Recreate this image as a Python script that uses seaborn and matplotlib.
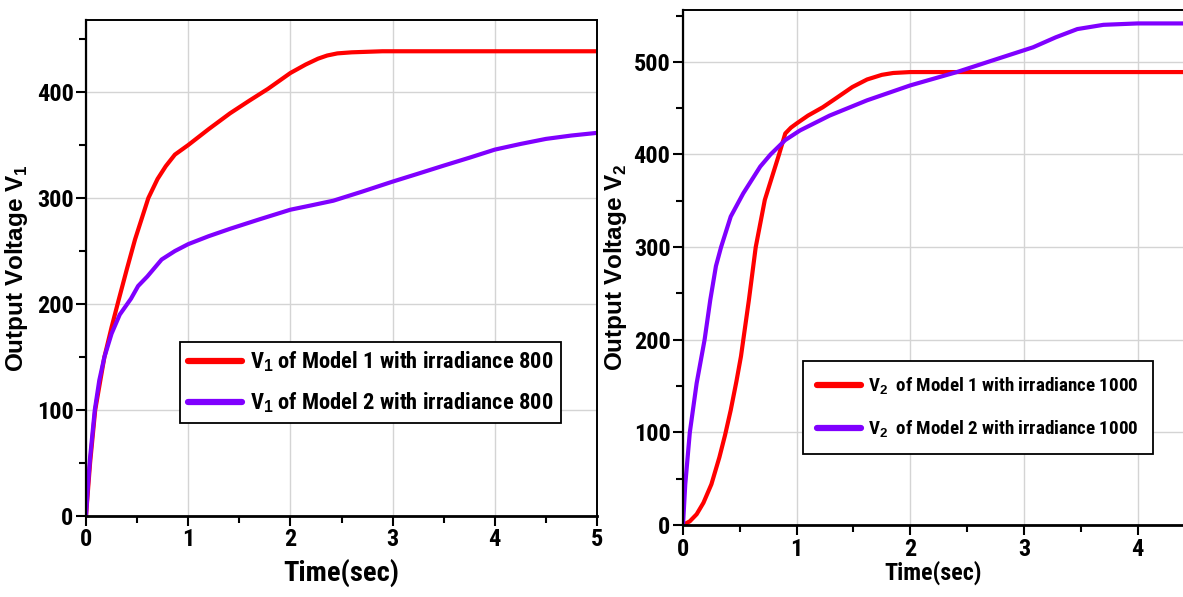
import numpy as np
import pandas as pd
import matplotlib
matplotlib.use("Agg")
import matplotlib.pyplot as plt
from matplotlib import font_manager as fm
from matplotlib.font_manager import FontProperties
from matplotlib.ticker import MultipleLocator
import seaborn as sns

# ---------------- data ----------------
t_l_m1 = [0, 0.04, 0.09, 0.18, 0.25, 0.32, 0.40, 0.48, 0.55, 0.61, 0.70, 0.78, 0.87, 1.00,
          1.20, 1.41, 1.60, 1.78, 2.00, 2.15, 2.27, 2.36, 2.46, 2.60, 2.90, 3.50, 4.00, 4.50, 5.00]
v_l_m1 = [0, 50, 100, 150, 178, 204, 233, 261, 282, 300, 318, 330, 341, 350,
          365, 380, 392, 403, 418, 426, 431.5, 434.5, 436.5, 437.5, 438.5, 438.5, 438.5, 438.5, 438.5]

t_l_m2 = [0, 0.02, 0.04, 0.086, 0.13, 0.18, 0.25, 0.33, 0.44, 0.51, 0.60, 0.74, 0.87, 1.00,
          1.20, 1.41, 1.70, 2.00, 2.20, 2.42, 2.70, 3.00, 3.25, 3.50, 3.75, 4.00, 4.25, 4.50, 4.75, 5.00]
v_l_m2 = [0, 30, 55, 100, 128, 150, 172, 190, 205, 217, 226, 242, 250, 256.5,
          264, 271, 280, 289, 293, 297.5, 306, 315.5, 323, 330.6, 338, 345.7, 351, 355.8, 359, 361.5]

t_r_m1 = [0, 0.06, 0.12, 0.18, 0.25, 0.32, 0.37, 0.42, 0.47, 0.51, 0.58, 0.64, 0.72, 0.845,
          0.90, 0.95, 1.00, 1.10, 1.23, 1.35, 1.49, 1.62, 1.75, 1.85, 2.00, 2.50, 3.00, 3.50, 4.40]
v_r_m1 = [0, 4, 11.6, 24, 44, 73, 97, 124, 155, 182, 243, 300, 351, 400,
          422.7, 429, 433.5, 442, 451, 461, 472.8, 481, 486, 488, 489, 489, 489, 489, 489]

t_r_m2 = [0, 0.02, 0.06, 0.12, 0.19, 0.24, 0.29, 0.335, 0.42, 0.53, 0.68, 0.77, 0.90, 1.03,
          1.29, 1.62, 2.00, 2.41, 2.72, 3.08, 3.28, 3.47, 3.70, 4.00, 4.40]
v_r_m2 = [0, 44, 100, 153, 200, 243, 279.6, 300, 333, 358, 387, 400, 415.6, 426,
          442, 458.5, 474.6, 489, 501.4, 515.7, 526.5, 535.4, 540, 541.5, 541.5]

labels_left = [r"V$_\mathbf{1}$ of Model 1 with irradiance 800",
               r"V$_\mathbf{1}$ of Model 2 with irradiance 800"]
labels_right = [r"V$_\mathbf{2}$  of Model 1 with irradiance 1000",
                r"V$_\mathbf{2}$  of Model 2 with irradiance 1000"]

RED = "#ff0000"
PURPLE = "#8000ff"

# ---------------- style ----------------
sns.set_style("whitegrid")

# look for an installed condensed / narrow bold face
narrow = None
pref = ["Liberation Sans Narrow", "Roboto Condensed", "DejaVu Sans Condensed",
        "Open Sans Condensed", "Noto Sans Condensed", "DejaVu Sans"]
cands = []
for f in fm.fontManager.ttflist:
    is_narrow = ("Narrow" in f.name or "Condensed" in f.name or "Condensed" in f.fname
                 or f.stretch in ("condensed", "semi-condensed", "extra-condensed"))
    is_bold = (f.weight in ("bold", 700, "700")) or ("Bold" in f.fname)
    if is_narrow and is_bold and "Oblique" not in f.fname and "Italic" not in f.fname:
        cands.append(f)
cands.sort(key=lambda f: pref.index(f.name) if f.name in pref else len(pref))
if cands:
    narrow = cands[0]

if narrow is not None:
    NFP = lambda size: FontProperties(fname=narrow.fname, size=size)
    scale = 1.0
else:
    NFP = lambda size: FontProperties(family=["Liberation Sans", "DejaVu Sans"],
                                      weight="bold", size=size)
    scale = 0.86

plt.rcParams["font.family"] = ["Liberation Sans", "DejaVu Sans"]
plt.rcParams["font.weight"] = "bold"
plt.rcParams["text.color"] = "black"
plt.rcParams["axes.labelcolor"] = "black"
plt.rcParams["xtick.color"] = "black"
plt.rcParams["ytick.color"] = "black"
plt.rcParams["mathtext.fontset"] = "custom"
plt.rcParams["mathtext.rm"] = "Liberation Sans:bold"
plt.rcParams["mathtext.bf"] = "Liberation Sans:bold"

fig = plt.figure(figsize=(11.83, 5.97), dpi=100)
axL = fig.add_axes([86 / 1183, (597 - 516) / 597, 511 / 1183, 496 / 597])
axR = fig.add_axes([683 / 1183, (597 - 525) / 597, 500 / 1183, 515 / 597])


def df_of(t, v, lab):
    return pd.DataFrame({"t": t, "v": v, "series": lab})


dL = pd.concat([df_of(t_l_m1, v_l_m1, labels_left[0]), df_of(t_l_m2, v_l_m2, labels_left[1])])
dR = pd.concat([df_of(t_r_m1, v_r_m1, labels_right[0]), df_of(t_r_m2, v_r_m2, labels_right[1])])

for ax, d, labs in [(axL, dL, labels_left), (axR, dR, labels_right)]:
    sns.lineplot(data=d, x="t", y="v", hue="series", hue_order=labs,
                 palette=[RED, PURPLE], sort=False, estimator=None,
                 linewidth=3.0, ax=ax)

axL.set_xlim(0, 5)
axL.set_ylim(0, 468)
axR.set_xlim(0, 4.4)
axR.set_ylim(0, 556)

for ax in (axL, axR):
    ax.set_facecolor("white")
    ax.xaxis.set_major_locator(MultipleLocator(1))
    ax.xaxis.set_minor_locator(MultipleLocator(0.5))
    ax.yaxis.set_major_locator(MultipleLocator(100))
    ax.yaxis.set_minor_locator(MultipleLocator(50))
    ax.grid(True, which="major", color="#d4d4d4", linewidth=1.0)
    ax.grid(False, which="minor")
    ax.tick_params(axis="both", which="major", direction="out", length=7, width=1.5,
                   color="black", pad=2, bottom=True, left=True)
    ax.tick_params(axis="both", which="minor", direction="out", length=5, width=1.5,
                   color="black", bottom=True, left=True)
    for s in ax.spines.values():
        s.set_color("black")
        s.set_linewidth(1.4)
    ax.spines["bottom"].set_linewidth(2.0)
    ax.spines["left"].set_linewidth(1.6)

axR.spines["right"].set_visible(False)

axL.set_xlabel("Time(sec)", fontproperties=NFP(20.5 * scale), labelpad=5)
axR.set_xlabel("Time(sec)", fontproperties=NFP(17.3 * scale), labelpad=0)
axL.set_ylabel(r"Output Voltage V$_\mathbf{1}$", fontsize=17.5, fontweight="bold",
               labelpad=5)
axR.set_ylabel(r"Output Voltage V$_\mathbf{2}$", fontsize=17.5, fontweight="bold",
               labelpad=3)

fig.canvas.draw()
for ax in (axL, axR):
    for lab in ax.get_xticklabels() + ax.get_yticklabels():
        lab.set_fontproperties(NFP(17.5 * scale))

legL = axL.legend(loc="upper left", bbox_to_anchor=(0.184, 0.351), borderaxespad=0,
                  fancybox=False, framealpha=1, edgecolor="black",
                  handlelength=2.4, handletextpad=0.35,
                  borderpad=0.35, labelspacing=0.72, prop=NFP(16.2 * scale))
legR = axR.legend(loc="upper left", bbox_to_anchor=(0.24, 0.318), borderaxespad=0,
                  fancybox=False, framealpha=1, edgecolor="black",
                  handlelength=2.3, handletextpad=0.35,
                  borderpad=0.75, labelspacing=1.15, prop=NFP(13.7 * scale))
for leg in (legL, legR):
    leg.get_frame().set_linewidth(1.3)
    for h in leg.get_lines():
        h.set_linewidth(4.5)

fig.savefig("out.png", dpi=100)
